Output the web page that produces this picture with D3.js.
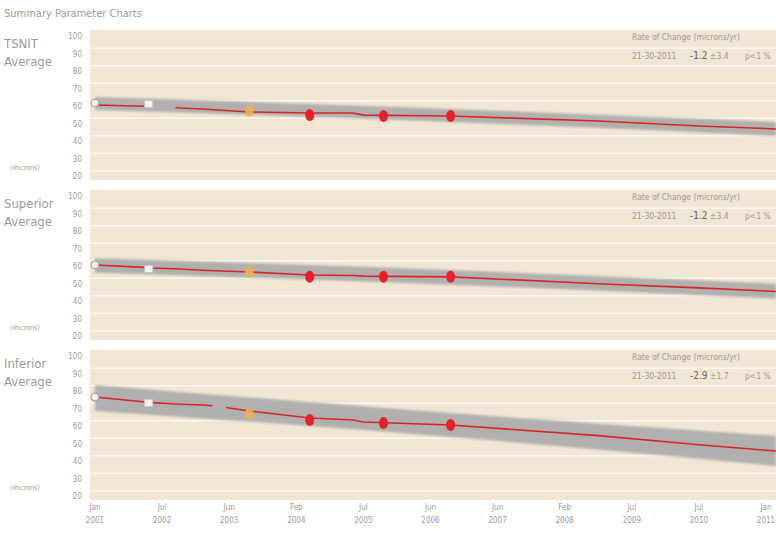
<!DOCTYPE html>
<html lang="en">
<head>
    <meta charset="UTF-8">
    <title>Summary Parameter Charts</title>
    <style>
        body { margin: 0; background: #fff; }
        text { font-family: "Liberation Sans Narrow", "DejaVu Sans Condensed", "Liberation Sans", sans-serif; fill: #9a9a9a; }
    </style>
</head>
<body>
    <script src="https://cdn.jsdelivr.net/npm/d3@7"></script>
    <script>
        var width = 776;
        var height = 535;

        // x axis labels, one per year 2001..2011
        var tickYears = [2001, 2002, 2003, 2004, 2005, 2006, 2007, 2008, 2009, 2010, 2011];
        var tickMonths = ["Jan", "Jul", "Jun", "Feb", "Jul", "Jun", "Jun", "Feb", "Jul", "Jul", "Jan"];
        var yTicks = [100, 90, 80, 70, 60, 50, 40, 30, 20];
        var gridValues = [93, 83, 73, 63, 53, 43, 33, 23];

        var panelNames = ["TSNIT", "Superior", "Inferior"];
        var rateValues = ["-1.2", "-1.2", "-2.9"];
        var rateErrors = ["\u00b13.4", "\u00b13.4", "\u00b11.7"];

        // exam visits
        var visitYears = [2001.0, 2001.8, 2003.3, 2004.2, 2005.3, 2006.3];
        var visitKinds = ["start", "base", "first", "loss", "loss", "loss"];
        var tsnitVisits = [61.7, 61.1, 57.1, 54.9, 54.3, 54.3];
        var superiorVisits = [60.6, 58.3, 56.6, 53.8, 53.8, 53.8];
        var inferiorVisits = [76.6, 73.1, 66.9, 63.4, 61.7, 60.6];

        // trend line (null = gap)
        var trendYears = [2001.0, 2001.75, 2001.8, 2002.2, 2002.6, 2003.3, 2004.2, 2004.85, 2005.0, 2006.3, 2008.5, 2010.0, 2011.15];
        var tsnitTrend = [60.6, 59.9, null, 59.0, 58.3, 56.6, 56.0, 56.0, 54.8, 54.3, 51.4, 48.6, 46.9];
        var superiorTrend = [60.6, 59.2, 58.9, 58.4, 57.6, 56.6, 54.9, 54.6, 54.2, 53.8, 49.9, 47.5, 45.4];
        var inferiorTrend = [76.6, 73.7, 73.5, 72.6, 72.0, 68.6, 64.6, 63.4, 62.3, 60.6, 54.5, 49.3, 45.7];
        var inferiorGap = [2002.75, 2002.95];

        // confidence band
        var bandYears = [2001.0, 2006.3, 2011.15];
        var tsnitUpper = [65.1, 58.3, 50.9];
        var tsnitLower = [57.7, 50.9, 42.9];
        var superiorUpper = [64.5, 57.7, 49.9];
        var superiorLower = [56.1, 49.3, 41.4];
        var inferiorUpper = [83.4, 67.4, 54.3];
        var inferiorLower = [68.6, 53.7, 37.1];

        var visits = [tsnitVisits, superiorVisits, inferiorVisits];
        var trends = [tsnitTrend, superiorTrend, inferiorTrend];
        var uppers = [tsnitUpper, superiorUpper, inferiorUpper];
        var lowers = [tsnitLower, superiorLower, inferiorLower];
        var panelTops = [30, 190, 350];
        var panelHeight = 150;

        var svg = d3.select("body")
                    .append("svg")
                    .attr("width", width)
                    .attr("height", height);

        var defs = svg.append("defs");
        defs.append("filter").attr("id", "soft")
            .append("feGaussianBlur").attr("stdDeviation", 0.9);
        defs.append("filter").attr("id", "soft2")
            .append("feGaussianBlur").attr("stdDeviation", 0.5);

        var x = d3.scaleLinear().domain([2001, 2011]).range([95, 766]);

        svg.append("text")
           .attr("x", 4).attr("y", 17)
           .attr("font-size", 11)
           .attr("fill", "#a8a8a8")
           .text("Summary Parameter Charts");

        panelNames.forEach(function(name, p) {
            var top = panelTops[p];
            var y = d3.scaleLinear().domain([20, 100]).range([top + 146, top + 6]);
            var g = svg.append("g");

            g.append("rect")
             .attr("x", 90).attr("y", top)
             .attr("width", width - 90).attr("height", panelHeight)
             .attr("fill", "#f1e5d3");

            g.selectAll(".grid")
             .data(gridValues)
             .enter()
             .append("line")
             .attr("x1", 90).attr("x2", width)
             .attr("y1", d => y(d)).attr("y2", d => y(d))
             .attr("stroke", "#fbf7f0")
             .attr("stroke-width", 1.6);

            g.selectAll(".ytick")
             .data(yTicks)
             .enter()
             .append("text")
             .attr("x", 82)
             .attr("y", d => y(d) + 3)
             .attr("text-anchor", "end")
             .attr("font-size", 8)
             .text(d => d);

            g.append("text").attr("x", 4).attr("y", top + 18)
             .attr("font-size", 13).attr("fill", "#8c8c8c").text(name);
            g.append("text").attr("x", 4).attr("y", top + 36)
             .attr("font-size", 13).attr("fill", "#8c8c8c").text("Average");
            g.append("text").attr("x", 10).attr("y", top + 140)
             .attr("font-size", 7).attr("fill", "#b0b0b0").text("(microns)");

            g.append("text").attr("x", 632).attr("y", top + 10)
             .attr("font-size", 8.5).attr("fill", "#8c8c8c")
             .text("Rate of Change (microns/yr)");
            var row = g.append("text").attr("y", top + 29)
                       .attr("font-size", 8.5).attr("fill", "#8c8c8c");
            row.append("tspan").attr("x", 632).text("21-30-2011");
            row.append("tspan").attr("x", 690).attr("font-size", 10).attr("fill", "#666").text(rateValues[p]);
            row.append("tspan").attr("x", 710).text(rateErrors[p]);
            row.append("tspan").attr("x", 745).text("p<1 %");

            // band
            var band = d3.area()
                         .x((d, i) => x(bandYears[i]))
                         .y0((d, i) => y(lowers[p][i]))
                         .y1((d, i) => y(uppers[p][i]))
                         .curve(d3.curveMonotoneX);
            g.append("path")
             .attr("d", band(bandYears))
             .attr("fill", "#ababab")
             .attr("opacity", 0.9)
             .attr("filter", "url(#soft)");

            // trend
            var pts = trendYears.map((t, i) => ({t: t, v: trends[p][i]}));
            if (p == 2) {
                pts = pts.filter(d => !(d.t > inferiorGap[0] && d.t < inferiorGap[1]));
                pts.splice(pts.findIndex(d => d.t > inferiorGap[0]), 0, {t: inferiorGap[0], v: 71.6}, {t: inferiorGap[0], v: null}, {t: inferiorGap[1], v: 70.6});
            }
            var line = d3.line()
                         .defined(d => d.v != null)
                         .x(d => x(d.t))
                         .y(d => y(d.v));
            g.append("path")
             .attr("d", line(pts))
             .attr("fill", "none")
             .attr("stroke", "#d8262a")
             .attr("stroke-width", 1.6)
             .attr("filter", "url(#soft2)");

            // visit markers
            visitYears.forEach(function(t, i) {
                var cx = x(t), cy = y(visits[p][i]);
                var kind = visitKinds[i];
                if (kind == "start") {
                    g.append("circle").attr("cx", cx).attr("cy", cy).attr("r", 4)
                     .attr("fill", "#f4f0ea").attr("stroke", "#9a9a9a").attr("stroke-width", 1);
                } else if (kind == "base") {
                    g.append("rect").attr("x", cx - 4).attr("y", cy - 3.5).attr("width", 8).attr("height", 7)
                     .attr("fill", "#f6f3ee").attr("stroke", "#c8c8c8").attr("stroke-width", 0.8);
                } else if (kind == "first") {
                    g.append("ellipse").attr("cx", cx).attr("cy", cy).attr("rx", 4.5).attr("ry", 5.5)
                     .attr("fill", "#f3b24a").attr("opacity", 0.85).attr("filter", "url(#soft2)");
                } else {
                    g.append("ellipse").attr("cx", cx).attr("cy", cy).attr("rx", 4.5).attr("ry", 6)
                     .attr("fill", "#e3222a").attr("filter", "url(#soft2)");
                }
            });
        });

        // x axis labels
        var xl = svg.selectAll(".xlab")
                    .data(tickYears)
                    .enter()
                    .append("text")
                    .attr("text-anchor", "middle")
                    .attr("font-size", 8)
                    .attr("fill", "#a0a0a0");
        xl.append("tspan").attr("x", d => x(d)).attr("y", 510).text((d, i) => tickMonths[i]);
        xl.append("tspan").attr("x", d => x(d)).attr("y", 523).text(d => d);
    </script>
</body>
</html>
